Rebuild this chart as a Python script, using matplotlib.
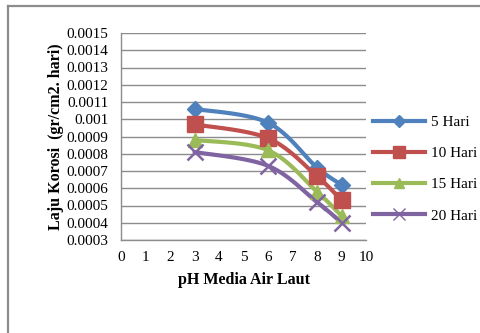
import numpy as np
import matplotlib.pyplot as plt
from matplotlib.lines import Line2D

ph = [3, 6, 8, 9]
hari_5 = [0.00106, 0.00098, 0.00072, 0.00062]
hari_10 = [0.00097, 0.00089, 0.00067, 0.00053]
hari_15 = [0.00088, 0.00082, 0.00058, 0.00044]
hari_20 = [0.00081, 0.00073, 0.00052, 0.00040]
labels = ['5 Hari', '10 Hari', '15 Hari', '20 Hari']
yticks = [round(0.0003 + 0.0001 * i, 4) for i in range(13)]

colors = ['#4F81BD', '#C0504D', '#9BBB59', '#8064A2']
markers = ['D', 's', '^', 'x']
msizes = [8, 11, 10, 12]


def smooth(x, y, n=30):
    # Excel-like smoothed line: Catmull-Rom style bezier segments
    x = np.asarray(x, float)
    y = np.asarray(y, float)
    px = np.concatenate([[x[0]], x, [x[-1]]])
    py = np.concatenate([[y[0]], y, [y[-1]]])
    xs, ys = [], []
    t = np.linspace(0, 1, n)
    for i in range(1, len(px) - 2):
        p0 = np.array([px[i - 1], py[i - 1]])
        p1 = np.array([px[i], py[i]])
        p2 = np.array([px[i + 1], py[i + 1]])
        p3 = np.array([px[i + 2], py[i + 2]])
        c1 = p1 + (p2 - p0) / 6
        c2 = p2 - (p3 - p1) / 6
        b = ((1 - t) ** 3)[:, None] * p1 + (3 * (1 - t) ** 2 * t)[:, None] * c1 \
            + (3 * (1 - t) * t ** 2)[:, None] * c2 + (t ** 3)[:, None] * p2
        xs.extend(b[:, 0])
        ys.extend(b[:, 1])
    return np.array(xs), np.array(ys)


plt.rcParams['font.family'] = 'Liberation Serif'

fig = plt.figure(figsize=(4.8, 3.33), dpi=100)
ax = fig.add_axes([121 / 480, 1 - 240 / 333, 245 / 480, 207 / 333])

series = [hari_5, hari_10, hari_15, hari_20]
handles = []
for vals, c, m, ms, lab in zip(series, colors, markers, msizes, labels):
    sx, sy = smooth(ph, vals)
    ax.plot(sx, sy, color=c, lw=3, solid_capstyle='round', zorder=3)
    ax.plot(ph, vals, linestyle='none', marker=m, markersize=ms, color=c,
            markeredgecolor=c, markeredgewidth=1.8 if m == 'x' else 1, zorder=4)
    handles.append(Line2D([0], [0], color=c, lw=3, marker=m,
                          markersize=ms * 0.75, markeredgecolor=c))

ax.set_xlim(0, 10)
ax.set_ylim(0.0003, 0.0015)
ax.set_xticks(range(0, 11))
ax.set_yticks(yticks)
ax.set_yticklabels([('%.4f' % v).rstrip('0') for v in yticks])
ax.grid(axis='y', color='#8c8c8c', lw=1)
ax.set_axisbelow(True)
for s in ['top', 'right']:
    ax.spines[s].set_visible(False)
for s in ['left', 'bottom']:
    ax.spines[s].set_color('#8c8c8c')
    ax.spines[s].set_linewidth(1)
ax.tick_params(length=0, labelsize=11)
ax.tick_params(axis='y', pad=9)
ax.tick_params(axis='x', pad=8)
ax.set_xlabel('pH Media Air Laut', fontsize=11.5, fontweight='bold', labelpad=6)
ax.set_ylabel('Laju Korosi  (gr/cm2. hari)', fontsize=11.5, fontweight='bold', labelpad=2)

fig.legend(handles, labels, loc='center left', bbox_to_anchor=(373 / 480, 1 - 169 / 333),
           frameon=False, fontsize=11, handlelength=3.4, labelspacing=1.15,
           handletextpad=0.4, borderaxespad=0, borderpad=0)

# cropped outer chart border
fig.add_artist(Line2D([8 / 480, 1], [1 - 6 / 333, 1 - 6 / 333], color='#8c8c8c', lw=1.6))
fig.add_artist(Line2D([8 / 480, 8 / 480], [0, 1 - 6 / 333], color='#8c8c8c', lw=1.6))

fig.savefig('out.png', dpi=100)
